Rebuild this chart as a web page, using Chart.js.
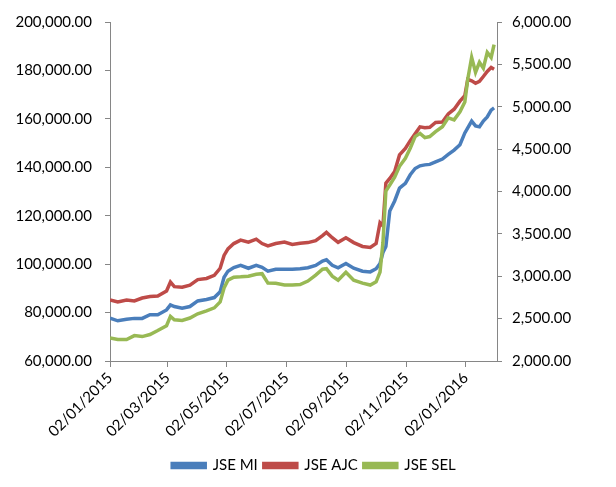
<!DOCTYPE html>
<html><head><meta charset="utf-8">
<script src="https://cdn.jsdelivr.net/npm/chart.js@4.4.1/dist/chart.umd.min.js"></script>
<style>html,body{margin:0;padding:0;background:#fff}#wrap{width:616px;height:487px}</style>
</head><body><div id="wrap"><canvas id="c" width="616" height="487"></canvas></div>
<script>
const dates = [
"2015-01-02","2015-01-10","2015-01-19","2015-01-27","2015-02-04","2015-02-12","2015-02-20","2015-03-01","2015-03-05","2015-03-09",
"2015-03-17","2015-03-25","2015-04-02","2015-04-11","2015-04-19","2015-04-25","2015-04-29","2015-05-03","2015-05-09","2015-05-16",
"2015-05-24","2015-06-01","2015-06-07","2015-06-13","2015-06-21","2015-06-30","2015-07-08","2015-07-16","2015-07-24","2015-08-01",
"2015-08-08","2015-08-12","2015-08-18","2015-08-24","2015-09-01","2015-09-09","2015-09-18","2015-09-26","2015-10-02","2015-10-06",
"2015-10-09","2015-10-12","2015-10-16","2015-10-21","2015-10-26","2015-11-01","2015-11-06","2015-11-11","2015-11-16","2015-11-21",
"2015-11-26","2015-12-02","2015-12-09","2015-12-15","2015-12-21","2015-12-27","2016-01-01","2016-01-04","2016-01-08","2016-01-12",
"2016-01-16","2016-01-20","2016-01-24","2016-01-28","2016-01-31"];

const jseMI = [
77700,76600,77200,77600,77600,79100,79100,81100,83200,82500,
81800,82500,84800,85400,86200,88600,94600,97100,98600,99500,
98300,99500,98700,97100,97900,97900,97900,98100,98500,99500,
101300,101800,99500,98500,100300,98300,97100,96800,98100,100300,
104800,107300,122000,126100,131400,133400,136900,139500,140600,141000,
141200,142200,143400,145300,147100,149300,154200,156300,159100,157100,
156700,159100,160800,163600,164500];

const jseAJC = [
85200,84400,85200,84800,86000,86600,86800,88900,92600,90700,
90500,91300,93600,94100,95400,98300,103600,106300,108500,109900,
109100,110300,108500,107500,108500,109100,108100,108600,108900,109700,
111800,113100,110900,109000,110900,108900,107300,106900,108500,117100,
115800,133400,135400,138300,145100,147800,151000,153800,156700,156300,
156500,158500,158700,162000,164000,167300,169600,176300,175700,174700,
175500,177500,179600,181200,180500];

const jseSEL = [
2273,2253,2253,2300,2288,2312,2359,2417,2526,2487,
2479,2507,2557,2592,2627,2697,2861,2954,2989,2993,
3001,3024,3030,2919,2916,2896,2896,2902,2943,3013,
3083,3089,3001,2954,3048,2954,2919,2896,2934,3048,
3398,4005,4076,4169,4297,4391,4511,4648,4686,4636,
4648,4706,4765,4870,4846,4940,5057,5325,5582,5407,
5524,5454,5641,5582,5734];

const seriesNames = ["JSE MI","JSE AJC","JSE SEL"];
const xTickLabels = ["02/01/2015","02/03/2015","02/05/2015","02/07/2015","02/09/2015","02/11/2015","02/01/2016"];
const xAxisEnd = "2016-02-03";

const DAY = 86400000;
const ORIGIN = Date.UTC(2015,0,2);
function isoToDay(s){const p=s.split('-').map(Number);return Math.round((Date.UTC(p[0],p[1]-1,p[2])-ORIGIN)/DAY);}
function labelToDay(s){const p=s.split('/').map(Number);return Math.round((Date.UTC(p[2],p[1]-1,p[0])-ORIGIN)/DAY);}
const tickDays = xTickLabels.map(labelToDay);
const pts = arr => arr.map((v,i)=>({x:isoToDay(dates[i]), y:v}));
const fmt = v => Number(v).toLocaleString('en-US',{minimumFractionDigits:2,maximumFractionDigits:2});

const FONT = {family:"Lato, 'Open Sans', sans-serif", size:15};
const AX = '#868686';
const TXT = '#000000';

new Chart(document.getElementById('c'), {
  type:'line',
  data:{datasets:[
    {label:seriesNames[0], data:pts(jseMI), yAxisID:'y', borderColor:'#4A7EBB', backgroundColor:'#4A7EBB', borderWidth:3.5, pointRadius:0, order:3},
    {label:seriesNames[1], data:pts(jseAJC), yAxisID:'y', borderColor:'#BE4B48', backgroundColor:'#BE4B48', borderWidth:3.5, pointRadius:0, order:2},
    {label:seriesNames[2], data:pts(jseSEL), yAxisID:'y1', borderColor:'#98B954', backgroundColor:'#98B954', borderWidth:3.5, pointRadius:0, order:1}
  ]},
  options:{
    responsive:false, animation:false, devicePixelRatio:1,
    layout:{padding:{top:19,left:12,right:0,bottom:4}},
    plugins:{
      tooltip:{enabled:false},
      legend:{position:'bottom', labels:{font:FONT, color:TXT, boxWidth:33, boxHeight:4, padding:6, sort:(a,b)=>a.datasetIndex-b.datasetIndex}}
    },
    scales:{
      x:{type:'linear', min:0, max:isoToDay(xAxisEnd),
        afterBuildTicks:s=>{s.ticks=tickDays.map(v=>({value:v}));},
        afterFit:s=>{s.height=91;},
        grid:{drawOnChartArea:false, drawTicks:true, tickLength:6, color:AX},
        border:{color:AX, width:1},
        ticks:{minRotation:45, maxRotation:45, autoSkip:false, font:FONT, color:TXT, padding:2,
          callback:(v,i)=>xTickLabels[i]}
      },
      y:{position:'left', min:60000, max:200000,
        afterFit:s=>{s.width=98;},
        grid:{drawOnChartArea:false, drawTicks:true, tickLength:5, color:AX},
        border:{color:AX, width:1},
        ticks:{stepSize:20000, font:FONT, color:TXT, padding:13, callback:v=>fmt(v)}
      },
      y1:{position:'right', min:2000, max:6000,
        afterFit:s=>{s.width=119;},
        grid:{drawOnChartArea:false, drawTicks:true, tickLength:5, color:AX},
        border:{color:AX, width:1},
        ticks:{stepSize:500, font:FONT, color:TXT, padding:10, callback:v=>fmt(v)}
      }
    }
  }
});
</script></body></html>
